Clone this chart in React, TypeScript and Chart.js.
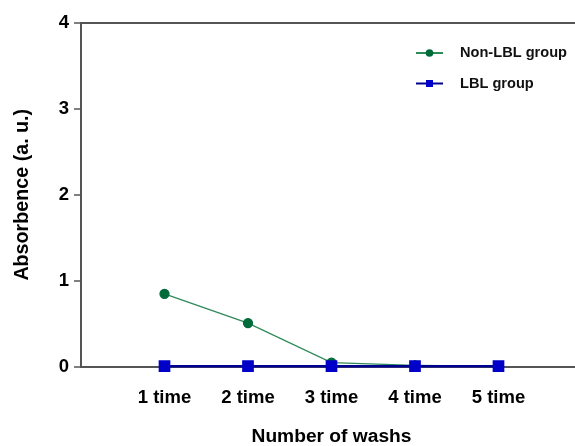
import React, { useEffect, useRef } from "react";
import { Chart, registerables } from "chart.js";

Chart.register(...registerables);

const washCounts = [1, 2, 3, 4, 5];
const washLabels = ["1 time", "2 time", "3 time", "4 time", "5 time"];
const nonLblValues = [0.85, 0.51, 0.05, 0.02, 0.01];
const lblValues = [0.01, 0.01, 0.01, 0.01, 0.01];
const seriesNames = ["Non-LBL group", "LBL group"];
const yTicks = [0, 1, 2, 3, 4];
const xTitle = "Number of washs";
const yTitle = "Absorbence (a. u.)";

const FONT = "'Liberation Sans', Arial, sans-serif";
const AXIS = "#555555";
const GREEN_LINE = "#2f8a5a";
const GREEN_MARK = "#006b3a";
const BLUE_LINE = "#000090";
const BLUE_MARK = "#0000c8";

const legendPlugin = {
  id: "customLegend",
  afterDraw(chart: any) {
    const ctx = chart.ctx;
    const ca = chart.chartArea;
    const x0 = ca.left + 335;
    const x1 = x0 + 27;
    const xm = (x0 + x1) / 2;
    const xt = x1 + 17;
    const rows = [ca.top + 30.5, ca.top + 61];
    ctx.save();
    chart.data.datasets.forEach((ds: any, i: number) => {
      const y = rows[i];
      ctx.strokeStyle = ds.borderColor;
      ctx.lineWidth = 2;
      ctx.beginPath();
      ctx.moveTo(x0, y);
      ctx.lineTo(x1, y);
      ctx.stroke();
      ctx.fillStyle = ds.pointBackgroundColor;
      if (ds.pointStyle === "rect") {
        ctx.fillRect(xm - 3.5, y - 3.5, 7, 7);
      } else {
        ctx.beginPath();
        ctx.arc(xm, y, 3.8, 0, Math.PI * 2);
        ctx.fill();
      }
      ctx.fillStyle = "#111";
      ctx.font = `bold 14.6px ${FONT}`;
      ctx.textBaseline = "middle";
      ctx.textAlign = "left";
      ctx.fillText(ds.label, xt, y);
    });
    ctx.restore();
  },
};

export default function App() {
  const ref = useRef<HTMLCanvasElement>(null);
  useEffect(() => {
    if (!ref.current) return;
    const chart = new Chart(ref.current, {
      type: "line",
      data: {
        datasets: [
          {
            label: seriesNames[0],
            data: washCounts.map((x, i) => ({ x, y: nonLblValues[i] })),
            borderColor: GREEN_LINE,
            borderWidth: 1.3,
            pointBackgroundColor: GREEN_MARK,
            pointBorderColor: GREEN_MARK,
            pointStyle: "circle",
            pointRadius: 4.5,
            order: 2,
            clip: false as any,
          },
          {
            label: seriesNames[1],
            data: washCounts.map((x, i) => ({ x, y: lblValues[i] })),
            borderColor: BLUE_LINE,
            borderWidth: 2.5,
            pointBackgroundColor: BLUE_MARK,
            pointBorderColor: BLUE_MARK,
            pointStyle: "rect",
            pointRadius: 6.5,
            order: 1,
            clip: false as any,
          },
        ],
      },
      options: {
        responsive: false,
        animation: false,
        devicePixelRatio: 1,
        layout: { autoPadding: false, padding: { top: 22.5, right: 0, left: 0, bottom: 0 } },
        plugins: { legend: { display: false }, tooltip: { enabled: false } },
        scales: {
          x: {
            type: "linear",
            min: 0,
            max: 6,
            afterBuildTicks: (scale: any) => {
              scale.ticks = washCounts.map((v) => ({ value: v }));
            },
            afterFit: (scale: any) => {
              scale.height = 79;
              scale.paddingLeft = 0;
              scale.paddingRight = 0;
            },
            ticks: {
              callback: (v: any) => washLabels[washCounts.indexOf(Number(v))] ?? "",
              font: { family: FONT, size: 18.5, weight: "bold" },
              color: "#000",
              padding: 15,
              maxRotation: 0,
              autoSkip: false,
            },
            grid: {
              display: true,
              drawOnChartArea: false,
              drawTicks: true,
              tickLength: 5,
              tickColor: AXIS,
              tickWidth: 1.5,
            },
            border: { display: true, color: AXIS, width: 2 },
            title: {
              display: true,
              text: xTitle,
              font: { family: FONT, size: 19.2, weight: "bold", lineHeight: 1.0 },
              color: "#000",
              padding: { top: 0, bottom: 0 },
            },
          },
          y: {
            min: 0,
            max: 4,
            afterBuildTicks: (scale: any) => {
              scale.ticks = yTicks.map((v) => ({ value: v }));
            },
            afterFit: (scale: any) => {
              scale.width = 81;
            },
            ticks: {
              font: { family: FONT, size: 18.5, weight: "bold" },
              color: "#000",
              padding: 5,
            },
            grid: {
              display: true,
              drawOnChartArea: true,
              drawTicks: true,
              tickLength: 7,
              tickColor: AXIS,
              tickWidth: 1.5,
              color: (c: any) => (c.tick && c.tick.value === 4 ? AXIS : "rgba(0,0,0,0)"),
              lineWidth: 2,
            },
            border: { display: true, color: AXIS, width: 2 },
            title: {
              display: true,
              text: yTitle,
              font: { family: FONT, size: 19.7, weight: "bold" },
              color: "#000",
              padding: { top: 11, bottom: 0 },
            },
          },
        },
      },
      plugins: [legendPlugin],
    });
    return () => chart.destroy();
  }, []);

  return (
    <div
      style={{
        position: "fixed",
        left: 0,
        top: 0,
        width: 575,
        height: 446,
        overflow: "hidden",
        background: "#fff",
      }}
    >
      <canvas ref={ref} width={582} height={446} style={{ display: "block", width: 582, height: 446 }} />
    </div>
  );
}
